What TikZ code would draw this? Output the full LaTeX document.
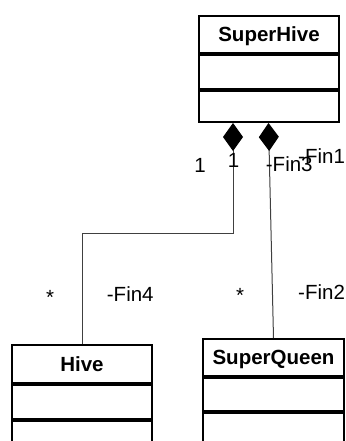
\documentclass[tikz,border=0pt]{standalone}
\usepackage{fontspec}
\setmainfont{Liberation Sans}
\usetikzlibrary{arrows.meta}
\begin{document}
\begin{tikzpicture}[x=1pt,y=-1pt,
  comp/.style={draw, line width=2pt, inner sep=0pt, anchor=north west},
  hdr/.style={comp, font=\bfseries\fontsize{20.5}{24}\selectfont, text height=14.7pt, text depth=0pt},
  conn/.style={draw=black!75, line width=1pt},
  comptip/.style={{Diamond[length=28pt,width=20pt,color=black,fill=black]}-},
  lbl/.style={font=\fontsize{20.5}{24}\selectfont, inner sep=0pt, anchor=base}]
\useasboundingbox (0,0) rectangle (345,441);
\clip (0,0) rectangle (345,441);
% SuperHive
\node[hdr, minimum width=140pt, minimum height=37pt] (sh) at (198,15) {SuperHive};
\node[comp, minimum width=140pt, minimum height=34pt] (sh2) at (sh.south west) {};
\node[comp, minimum width=140pt, minimum height=31pt] (sh3) at (sh2.south west) {};
% Hive
\node[hdr, minimum width=140pt, minimum height=38pt] (hive) at (11,344) {Hive};
\node[comp, minimum width=140pt, minimum height=34pt] (hive2) at (hive.south west) {};
\node[comp, minimum width=140pt, minimum height=34pt] (hive3) at (hive2.south west) {};
% SuperQueen
\node[hdr, minimum width=141pt, minimum height=37pt] (sq) at (202,338) {SuperQueen};
\node[comp, minimum width=141pt, minimum height=33pt] (sq2) at (sq.south west) {};
\node[comp, minimum width=141pt, minimum height=35pt] (sq3) at (sq2.south west) {};
% connectors
\coordinate (a1) at ([xshift=35pt]sh3.south west);
\coordinate (a2) at ([xshift=70.5pt]sh3.south west);
\draw[conn, comptip] (a1) -- ++(0,110) -| (hive.north);
\draw[conn, comptip] (a2) -- (sq.north);
% labels
\node[lbl] (m1) at (200,172) {1};
\node[lbl] (m2) at (233.5,167) {1};
\node[lbl, anchor=base west] (r1) at (298,163) {-Fin1};
\node[lbl, anchor=base west] (r3) at (265.7,171.5) {-Fin3};
\node[lbl] (m4) at (50,304) {*};
\node[lbl, anchor=base west] (r4) at (106.7,301) {-Fin4};
\node[lbl] (m5) at (240,302) {*};
\node[lbl, anchor=base west] (r2) at (298,299) {-Fin2};
\end{tikzpicture}
\end{document}
